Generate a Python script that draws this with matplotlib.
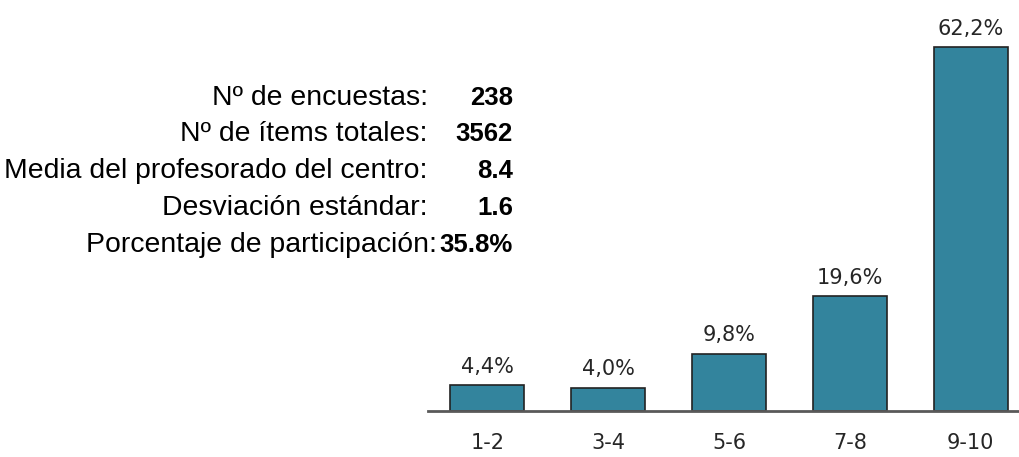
import matplotlib
matplotlib.use('Agg')
import matplotlib.pyplot as plt

# Rating distribution
categories = ['1-2', '3-4', '5-6', '7-8', '9-10']
percentages = [4.4, 4.0, 9.8, 19.6, 62.2]

# Summary table on the left
stat_labels = ['Nº de encuestas:', 'Nº de ítems totales:', 'Media del profesorado del centro:',
               'Desviación estándar:', 'Porcentaje de participación:']
stat_values = ['238', '3562', '8.4', '1.6', '35.8%']

W, H = 1019, 457
fig = plt.figure(figsize=(W / 100, H / 100), dpi=100)

bar_color = '#33849d'
axis_color = '#595959'

# Bar chart axes (pixel placement converted to figure fractions)
ax = fig.add_axes([428 / W, 46 / H, (W - 428) / W, 411 / H])
x = range(len(categories))
bars = ax.bar(x, percentages, width=0.61, color=bar_color, edgecolor='#222222', linewidth=1.2, zorder=2)
ax.set_xlim(-0.49, 4.40)
ax.set_ylim(0, 70.26)

for b, v in zip(bars, percentages):
    ax.annotate(f'{v:.1f}%'.replace('.', ','), (b.get_x() + b.get_width() / 2, v),
                xytext=(0, 6), textcoords='offset points', ha='center', va='bottom',
                fontsize=15, color='#262626', family='DejaVu Sans')

ax.set_xticks(list(x))
ax.set_xticklabels(categories, fontsize=15, color='#262626', family='DejaVu Sans')
ax.tick_params(axis='x', length=0, pad=16)
ax.set_yticks([])
for side in ['top', 'left', 'right']:
    ax.spines[side].set_visible(False)
ax.spines['bottom'].set_color(axis_color)
ax.spines['bottom'].set_linewidth(2)
ax.spines['bottom'].set_zorder(3)

# Summary text block
rows_y = [98, 134, 171, 208, 245]
label_right = [428, 428, 428, 428, 437]
for lbl, val, y, xr in zip(stat_labels, stat_values, rows_y, label_right):
    fig.text(xr / W, 1 - y / H, lbl, ha='right', va='center', fontsize=20.4,
             family='Liberation Sans', color='#000000')
    fig.text(513 / W, 1 - y / H, val, ha='right', va='center', fontsize=18.5,
             family='Liberation Sans', fontweight='bold', color='#000000')

fig.savefig('out.png', dpi=100)
